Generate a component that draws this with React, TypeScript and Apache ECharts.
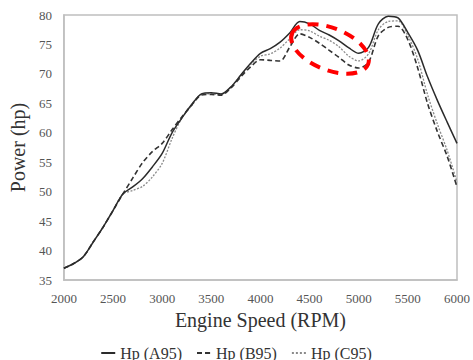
import React, { useEffect, useRef } from "react";
import * as echarts from "echarts";

const rpm = [
  2000, 2100, 2200, 2300, 2400, 2500, 2600, 2700, 2800, 2900,
  3000, 3100, 3200, 3300, 3400, 3500, 3600, 3700, 3800, 3900,
  4000, 4100, 4200, 4300, 4400, 4500, 4600, 4700, 4800, 4900,
  5000, 5100, 5200, 5300, 5400, 5500, 5600, 5700, 5800, 5900, 6000,
];

const hpA95 = [
  37.0, 37.8, 39.0, 41.5, 44.0, 46.8, 49.6, 50.8, 52.2, 54.2,
  56.5, 60.0, 62.5, 64.8, 66.6, 66.8, 66.6, 67.8, 69.8, 71.8,
  73.5, 74.3, 75.4, 77.0, 78.9, 78.5, 77.4, 76.6, 75.6, 74.4,
  73.5, 74.5, 78.5, 79.8, 79.5, 77.0, 74.0, 69.5, 65.5, 61.8, 58.2,
];

const hpB95 = [
  37.0, 37.8, 39.0, 41.5, 44.0, 46.8, 49.6, 52.3, 54.9, 56.8,
  58.2, 60.5, 62.7, 64.7, 66.4, 66.5, 66.4, 67.6, 69.5, 71.2,
  72.4, 72.3, 72.2, 74.6, 76.8, 76.2, 75.2, 74.0, 72.8, 71.5,
  71.0, 72.0, 76.5, 77.9, 78.1, 75.8, 71.0, 65.0, 60.2, 56.0, 50.8,
];

const hpC95 = [
  37.0, 37.8, 39.0, 41.5, 44.0, 46.8, 49.6, 50.2, 50.9, 52.5,
  54.8, 59.0, 62.5, 64.6, 66.5, 66.6, 66.5, 67.8, 69.7, 71.6,
  73.0, 73.4, 74.4, 76.0, 77.5, 77.3, 76.4, 75.7, 74.6, 73.0,
  72.2, 73.4, 77.5, 78.9, 79.0, 76.5, 72.5, 66.5, 61.5, 57.0, 51.6,
];

const seriesNames = ["Hp (A95)", "Hp (B95)", "Hp (C95)"];

const FONT = "'Liberation Serif', 'DejaVu Serif', serif";

const ICON_SOLID = "path://M0,0H14V2H0Z";
const ICON_DASH = "path://M0,0H5V2H0Z M8,0H13V2H8Z M13.9,0H14V2H13.9Z";
const ICON_DOT = "path://M0,0H2V2H0Z M4,0H6V2H4Z M8,0H10V2H8Z M12,0H14V2H12Z";

export default function App() {
  const ref = useRef<HTMLDivElement>(null);

  useEffect(() => {
    if (!ref.current) return;
    const chart = echarts.init(ref.current, undefined, { renderer: "svg" });
    const pairs = (vals: number[]) => rpm.map((r, i) => [r, vals[i]]);
    chart.setOption({
      animation: false,
      backgroundColor: "#ffffff",
      grid: {
        left: 57,
        right: 15,
        top: 15,
        bottom: 80,
        show: true,
        borderColor: "#bfbfbf",
        borderWidth: 1.5,
      },
      xAxis: {
        type: "value",
        min: 2000,
        max: 6000,
        interval: 500,
        name: "Engine Speed (RPM)",
        nameLocation: "middle",
        nameGap: 30,
        nameTextStyle: { fontFamily: FONT, fontSize: 20, color: "#333" },
        axisLine: { show: true, lineStyle: { color: "#bfbfbf", width: 1.5 } },
        axisTick: { show: false },
        splitLine: { show: false },
        axisLabel: {
          fontFamily: FONT,
          fontSize: 13,
          color: "#555",
          margin: 12,
          formatter: (v: number) => String(v),
        },
      },
      yAxis: {
        type: "value",
        min: 35,
        max: 80,
        interval: 5,
        name: "Power (hp)",
        nameLocation: "middle",
        nameGap: 30,
        nameRotate: 90,
        nameTextStyle: { fontFamily: FONT, fontSize: 20, color: "#333" },
        axisLine: { show: true, lineStyle: { color: "#bfbfbf", width: 1.5 } },
        axisTick: { show: false },
        splitLine: { show: false },
        axisLabel: { fontFamily: FONT, fontSize: 13, color: "#555", margin: 12 },
      },
      legend: {
        top: 340,
        left: "center",
        itemWidth: 14,
        itemHeight: 2,
        itemGap: 15,
        textStyle: { fontFamily: FONT, fontSize: 16, color: "#333" },
        data: [
          { name: seriesNames[0], icon: ICON_SOLID, itemStyle: { color: "#2b2b2b" } },
          { name: seriesNames[1], icon: ICON_DASH, itemStyle: { color: "#333333" } },
          { name: seriesNames[2], icon: ICON_DOT, itemStyle: { color: "#8a8a8a" } },
        ],
      },
      series: [
        {
          name: seriesNames[0],
          type: "line",
          data: pairs(hpA95),
          smooth: 0.3,
          symbol: "none",
          lineStyle: { color: "#2b2b2b", width: 1.5, type: "solid" },
          itemStyle: { color: "#2b2b2b" },
          z: 3,
        },
        {
          name: seriesNames[1],
          type: "line",
          data: pairs(hpB95),
          smooth: 0.3,
          symbol: "none",
          lineStyle: { color: "#333333", width: 1.6, type: [5, 3] },
          itemStyle: { color: "#333333" },
          z: 2,
        },
        {
          name: seriesNames[2],
          type: "line",
          data: pairs(hpC95),
          smooth: 0.3,
          symbol: "none",
          lineStyle: { color: "#8a8a8a", width: 1.3, type: [2, 1.5] },
          itemStyle: { color: "#8a8a8a" },
          z: 1,
        },
      ],
      graphic: [
        {
          type: "ellipse",
          x: 330,
          y: 49,
          rotation: -0.38,
          shape: { cx: 0, cy: 0, rx: 41, ry: 21 },
          style: {
            fill: "none",
            stroke: "#ff0000",
            lineWidth: 4,
            lineDash: [11, 8],
          },
          z: 10,
        },
      ],
    });
    return () => chart.dispose();
  }, []);

  return (
    <div
      ref={ref}
      style={{ position: "fixed", left: 0, top: 0, width: 473, height: 360 }}
    />
  );
}
